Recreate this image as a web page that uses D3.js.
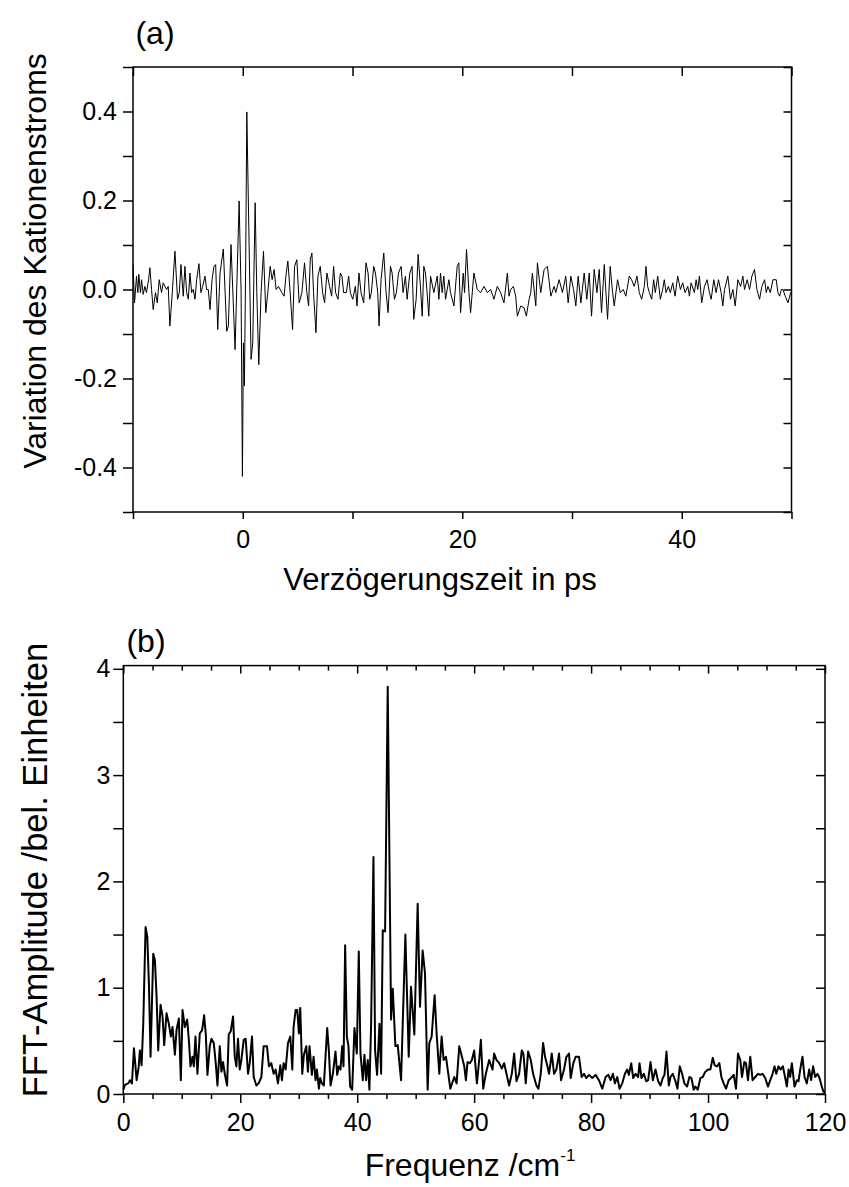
<!DOCTYPE html>
<html>
<head>
<meta charset="utf-8">
<script src="https://cdn.jsdelivr.net/npm/d3@7"></script>
<style>
  body { margin: 0; background: #fff; }
  svg text { font-family: "Liberation Sans", Arial, sans-serif; fill: #000; }
</style>
</head>
<body>
<svg id="chart" width="849" height="1187"></svg>
<script>
// (a) cation current variation vs. delay time: [delay in ps, variation]
const cationSignal = [
  [-10.0,0.056],[-9.86,-0.030],[-9.68,0.030],[-9.56,-0.007],[-9.47,0.034],[-9.32,-0.007],[-9.22,0.022],[-9.07,-0.011],
  [-8.92,0.007],[-8.77,-0.007],[-8.58,0.022],[-8.46,0.049],[-8.31,0.000],[-8.16,-0.045],[-7.95,-0.007],[-7.79,-0.030],
  [-7.61,0.022],[-7.40,-0.007],[-7.25,0.015],[-6.94,0.000],[-6.79,0.007],[-6.64,-0.082],[-6.42,-0.007],[-6.18,0.086],
  [-5.94,-0.022],[-5.78,-0.007],[-5.63,0.056],[-5.42,-0.015],[-5.27,0.052],[-5.11,-0.007],[-4.96,-0.022],[-4.81,0.037],
  [-4.66,-0.007],[-4.51,0.000],[-4.35,-0.022],[-4.20,0.022],[-3.99,0.058],[-3.81,-0.007],[-3.65,0.007],[-3.44,0.030],
  [-3.29,0.000],[-3.14,0.000],[-2.98,-0.045],[-2.80,0.022],[-2.62,0.052],[-2.47,0.056],[-2.28,-0.090],[-2.07,0.037],
  [-1.77,0.091],[-1.46,-0.094],[-1.31,-0.082],[-1.07,0.101],[-0.70,-0.135],[-0.33,0.199],[-0.15,-0.007],[-0.03,-0.420],
  [0.06,-0.120],[0.15,-0.217],[0.27,0.067],[0.37,0.399],[0.55,0.142],[0.76,-0.157],[0.91,-0.120],[1.13,0.195],
  [1.28,-0.007],[1.46,-0.169],[1.67,-0.007],[1.89,0.086],[2.10,-0.052],[2.28,-0.007],[2.50,0.052],[2.68,0.022],
  [2.86,0.045],[3.04,0.000],[3.26,0.007],[3.56,-0.007],[3.77,-0.015],[3.93,0.030],[4.11,0.064],[4.32,-0.007],
  [4.54,-0.090],[4.72,0.052],[4.93,0.067],[5.14,-0.030],[5.39,-0.007],[5.63,0.060],[5.84,-0.007],[6.00,-0.037],
  [6.15,0.067],[6.30,0.082],[6.45,-0.007],[6.67,-0.097],[6.85,0.030],[7.06,0.052],[7.28,-0.007],[7.46,-0.030],
  [7.67,0.037],[7.91,0.007],[8.10,-0.015],[8.28,0.052],[8.46,-0.007],[8.68,-0.022],[8.89,0.037],[9.04,0.030],
  [9.19,-0.007],[9.44,-0.007],[9.65,0.030],[9.80,-0.007],[10.02,-0.022],[10.26,0.007],[10.41,-0.037],[10.59,0.037],
  [10.78,-0.007],[11.02,-0.030],[11.23,0.060],[11.42,0.037],[11.57,-0.022],[11.72,-0.007],[11.93,0.052],[12.09,0.037],
  [12.30,-0.007],[12.42,-0.082],[12.60,0.022],[12.85,0.082],[13.06,-0.007],[13.24,-0.052],[13.46,0.052],[13.61,0.037],
  [13.82,-0.022],[14.00,-0.007],[14.19,0.037],[14.43,0.052],[14.61,-0.007],[14.82,0.030],[14.98,-0.022],[15.22,0.037],
  [15.43,0.052],[15.58,-0.067],[15.80,-0.022],[15.98,0.079],[16.19,0.007],[16.35,-0.060],[16.50,0.052],[16.65,0.037],
  [16.80,-0.007],[16.95,-0.060],[17.11,0.030],[17.41,-0.007],[17.72,0.030],[17.87,-0.022],[18.02,0.037],[18.17,-0.007],
  [18.32,0.030],[18.48,-0.022],[18.78,0.022],[18.93,-0.007],[19.24,-0.037],[19.54,0.052],[19.69,0.060],[19.85,-0.052],
  [20.09,0.037],[20.21,-0.007],[20.39,0.090],[20.61,-0.007],[20.76,-0.052],[21.06,0.037],[21.37,0.000],[21.67,-0.007],
  [21.98,0.007],[22.28,-0.007],[22.59,0.000],[22.89,-0.022],[23.19,0.007],[23.50,-0.007],[23.80,-0.030],[24.11,0.037],
  [24.26,-0.015],[24.41,0.000],[24.66,0.007],[24.87,-0.015],[25.02,-0.060],[25.33,-0.037],[25.63,-0.041],[25.84,-0.060],
  [26.09,-0.022],[26.24,-0.007],[26.39,0.037],[26.70,-0.037],[26.85,0.060],[27.15,-0.007],[27.46,0.045],[27.76,0.052],
  [28.07,-0.015],[28.37,0.007],[28.52,-0.007],[28.83,0.022],[29.13,-0.007],[29.43,0.030],[29.65,-0.030],[29.89,0.030],
  [30.14,0.000],[30.35,-0.037],[30.56,0.030],[30.81,-0.030],[31.11,0.037],[31.35,-0.022],[31.57,0.037],[31.78,-0.060],
  [32.02,0.045],[32.27,-0.007],[32.48,0.045],[32.69,-0.052],[32.94,0.056],[33.24,-0.067],[33.48,0.052],[33.70,-0.007],
  [33.85,-0.037],[34.15,0.022],[34.40,-0.007],[34.67,0.000],[34.91,-0.015],[35.22,0.030],[35.43,0.022],[35.67,0.007],
  [35.92,0.030],[36.13,-0.007],[36.35,-0.022],[36.59,0.007],[36.74,0.052],[36.89,0.007],[37.05,-0.007],[37.26,-0.022],
  [37.44,0.022],[37.59,-0.007],[37.81,0.030],[38.05,-0.022],[38.26,0.000],[38.41,0.022],[38.57,-0.007],[38.78,0.007],
  [38.96,-0.007],[39.18,0.015],[39.39,-0.015],[39.63,0.030],[39.88,0.000],[40.09,0.015],[40.30,-0.007],[40.55,0.007],
  [40.70,-0.015],[40.85,0.015],[41.15,-0.007],[41.31,0.022],[41.46,0.000],[41.61,0.030],[41.82,-0.030],[42.07,0.007],
  [42.31,0.022],[42.52,-0.007],[42.68,-0.022],[42.92,0.022],[43.13,-0.007],[43.35,0.022],[43.59,-0.007],[43.74,-0.037],
  [43.90,0.000],[44.20,0.030],[44.44,-0.022],[44.66,0.000],[44.87,-0.037],[45.11,0.022],[45.36,0.007],[45.57,0.030],
  [45.72,0.000],[45.96,0.022],[46.18,0.000],[46.39,0.030],[46.63,0.045],[46.85,0.000],[47.09,-0.022],[47.30,0.007],
  [47.55,0.022],[47.70,-0.007],[47.85,0.007],[48.07,-0.007],[48.31,0.022],[48.61,0.022],[48.76,-0.007],[48.92,-0.015],
  [49.07,0.000],[49.22,0.000],[49.43,-0.015],[49.68,-0.030],[49.92,-0.007],[50.0,-0.007]
];

// (b) FFT amplitude vs. frequency: [frequency in cm^-1, amplitude]
const fftSpectrum = [
  [0.00,0.04],[0.28,0.085],[0.85,0.10],[1.14,0.13],[1.48,0.10],[1.82,0.43],[2.28,0.13],[2.62,0.25],
  [2.84,0.41],[3.13,0.27],[3.41,0.66],[3.81,1.57],[4.10,1.48],[4.38,1.04],[4.66,0.35],[5.12,1.32],
  [5.40,1.26],[5.69,0.92],[5.97,0.41],[6.37,0.84],[6.71,0.73],[7.00,0.46],[7.39,0.76],[7.79,0.66],
  [8.13,0.54],[8.42,0.63],[8.82,0.37],[9.10,0.60],[9.50,0.71],[9.84,0.13],[10.13,0.79],[10.52,0.63],
  [10.92,0.70],[11.21,0.51],[11.49,0.26],[11.83,0.35],[12.06,0.26],[12.34,0.54],[12.68,0.19],[13.08,0.57],
  [13.48,0.60],[13.82,0.74],[14.11,0.56],[14.39,0.18],[14.79,0.45],[15.07,0.52],[15.47,0.48],[15.81,0.29],
  [16.10,0.08],[16.50,0.45],[16.78,0.21],[17.06,0.30],[17.35,0.19],[17.75,0.08],[18.03,0.56],[18.37,0.59],
  [18.77,0.73],[19.06,0.35],[19.34,0.26],[19.62,0.52],[19.91,0.23],[20.19,0.32],[20.59,0.51],[20.93,0.52],
  [21.33,0.19],[21.62,0.29],[22.01,0.54],[22.30,0.16],[22.75,0.08],[23.15,0.10],[23.61,0.16],[24.00,0.45],
  [24.57,0.45],[24.91,0.26],[25.31,0.29],[25.71,0.19],[26.05,0.23],[26.45,0.10],[26.85,0.27],[27.13,0.13],
  [27.42,0.29],[27.76,0.23],[28.16,0.48],[28.56,0.54],[28.90,0.23],[29.12,0.63],[29.47,0.79],[29.75,0.79],
  [30.03,0.57],[30.26,0.81],[30.60,0.19],[30.89,0.37],[31.29,0.45],[31.57,0.21],[31.85,0.45],[32.25,0.18],
  [32.54,0.35],[32.88,0.13],[33.11,0.23],[33.45,0.05],[33.67,0.15],[33.96,0.10],[34.30,0.08],[34.58,0.35],
  [34.87,0.62],[35.15,0.41],[35.44,0.08],[35.84,0.19],[36.29,0.40],[36.58,0.18],[36.86,0.26],[37.14,0.23],
  [37.43,0.45],[37.66,0.26],[37.94,1.40],[38.23,0.54],[38.51,0.45],[38.79,0.07],[39.14,0.04],[39.53,0.62],
  [39.93,0.38],[40.27,1.34],[40.56,0.38],[40.96,0.13],[41.24,0.37],[41.52,0.13],[41.81,0.32],[42.09,0.04],
  [42.38,0.66],[42.78,2.23],[43.06,0.41],[43.40,0.18],[43.80,0.66],[44.09,0.19],[44.37,1.54],[44.77,1.53],
  [45.22,3.83],[45.79,0.70],[46.08,0.99],[46.53,0.45],[46.93,0.46],[47.50,0.13],[48.24,1.50],[48.81,0.35],
  [49.20,1.01],[49.77,0.56],[50.34,1.79],[50.74,0.82],[51.19,1.35],[51.59,1.14],[52.05,0.04],[52.33,0.48],
  [52.73,0.54],[53.24,0.93],[53.58,0.57],[54.04,0.19],[54.44,0.54],[54.78,0.32],[55.18,0.35],[55.92,0.05],
  [56.60,0.16],[57.00,0.10],[57.45,0.45],[57.91,0.35],[58.31,0.26],[58.59,0.13],[58.87,0.30],[59.27,0.29],
  [59.61,0.32],[60.01,0.41],[60.47,0.10],[60.86,0.32],[61.15,0.51],[61.55,0.05],[62.00,0.19],[62.57,0.32],
  [63.14,0.23],[63.42,0.38],[63.82,0.32],[64.28,0.29],[64.73,0.24],[65.13,0.29],[65.53,0.19],[65.98,0.08],
  [66.44,0.19],[66.84,0.38],[67.24,0.12],[67.69,0.19],[68.15,0.41],[68.43,0.38],[68.83,0.10],[69.23,0.40],
  [69.68,0.32],[70.08,0.19],[70.65,0.08],[70.99,0.05],[71.39,0.19],[71.79,0.48],[72.13,0.35],[72.53,0.26],
  [72.81,0.19],[73.27,0.38],[73.67,0.19],[74.06,0.23],[74.52,0.38],[74.86,0.13],[75.37,0.23],[75.77,0.35],
  [76.22,0.38],[76.51,0.15],[76.96,0.29],[77.36,0.35],[77.93,0.35],[78.38,0.16],[78.78,0.19],[79.18,0.15],
  [79.64,0.18],[80.20,0.15],[80.77,0.18],[81.34,0.13],[81.91,0.05],[82.48,0.16],[82.94,0.18],[83.33,0.13],
  [83.73,0.19],[84.07,0.10],[84.47,0.16],[84.87,0.05],[85.32,0.10],[85.78,0.19],[86.18,0.23],[86.46,0.18],
  [86.86,0.29],[87.20,0.15],[87.60,0.19],[88.05,0.16],[88.28,0.29],[88.62,0.15],[89.02,0.19],[89.42,0.12],
  [89.76,0.13],[90.16,0.30],[90.56,0.13],[91.01,0.23],[91.47,0.12],[91.87,0.08],[92.26,0.15],[92.55,0.18],
  [92.89,0.40],[93.29,0.08],[93.57,0.16],[93.97,0.19],[94.43,0.12],[94.77,0.05],[95.16,0.26],[95.56,0.19],
  [95.96,0.10],[96.42,0.07],[96.81,0.16],[97.16,0.15],[97.55,0.04],[97.84,0.07],[98.24,0.04],[98.69,0.15],
  [99.09,0.16],[99.54,0.21],[100.00,0.23],[100.40,0.23],[100.80,0.34],[101.14,0.27],[101.54,0.26],[101.93,0.29],
  [102.28,0.16],[102.67,0.10],[103.07,0.05],[103.53,0.13],[103.92,0.15],[104.38,0.18],[104.78,0.05],[105.12,0.38],
  [105.52,0.32],[105.80,0.16],[106.20,0.30],[106.48,0.29],[106.83,0.13],[107.22,0.35],[107.62,0.13],[108.08,0.16],
  [108.53,0.19],[108.93,0.18],[109.33,0.19],[109.78,0.15],[110.24,0.07],[110.64,0.13],[111.04,0.19],[111.38,0.26],
  [111.66,0.19],[112.06,0.26],[112.40,0.23],[112.80,0.26],[113.20,0.15],[113.48,0.07],[113.77,0.23],[114.05,0.16],
  [114.33,0.29],[114.79,0.07],[115.19,0.13],[115.47,0.12],[115.76,0.23],[116.15,0.35],[116.50,0.16],[116.89,0.10],
  [117.29,0.23],[117.63,0.13],[117.97,0.26],[118.32,0.16],[118.71,0.19],[119.06,0.15],[119.45,0.07],[119.74,0.02],
  [120.0,0.02]
];

const delayTicks = [-10, 0, 10, 20, 30, 40, 50];
const delayLabels = [0, 20, 40];
const variationTicks = [-0.5, -0.4, -0.3, -0.2, -0.1, 0, 0.1, 0.2, 0.3, 0.4, 0.5];
const variationLabels = [-0.4, -0.2, 0, 0.2, 0.4];
const freqMajor = [0, 20, 40, 60, 80, 100, 120];
const freqMinor = [5, 10, 15, 25, 30, 35, 45, 50, 55, 65, 70, 75, 85, 90, 95, 105, 110, 115];
const ampTicks = [0, 0.5, 1, 1.5, 2, 2.5, 3, 3.5, 4];
const ampLabels = [0, 1, 2, 3, 4];

const svg = d3.select('#chart');
const tickFont = 25, titleFont = 32;
// plain hyphen for negatives, like the original
const fmt1 = d => d3.format('.1f')(d).replace('\u2212', '-');

function styleAxis(g) {
  g.select('.domain').remove();
  g.selectAll('.tick line').attr('stroke', '#000').attr('stroke-width', 1.5);
  g.selectAll('.tick text').attr('font-size', tickFont).attr('fill', '#000')
    .attr('font-family', '"Liberation Sans", Arial, sans-serif');
}

// ---------- panel (a) ----------
const xA = d3.scaleLinear().domain([-10, 50]).range([133, 791.5]);
const yA = d3.scaleLinear().domain([-0.5, 0.5]).range([512, 67]);

svg.append('g')
  .attr('transform', `translate(0, ${yA(-0.5)})`)
  .call(d3.axisBottom(xA).tickValues(delayTicks).tickSize(7).tickPadding(11)
    .tickFormat(d => delayLabels.includes(d) ? d : ''))
  .call(styleAxis);
svg.append('g')
  .attr('transform', `translate(0, ${yA(0.5)})`)
  .call(d3.axisTop(xA).tickValues(delayTicks).tickSize(-9).tickFormat(''))
  .call(styleAxis);
svg.append('g')
  .attr('transform', `translate(${xA(-10)}, 0)`)
  .call(d3.axisLeft(yA).tickValues(variationTicks).tickSize(10).tickPadding(6)
    .tickFormat(d => variationLabels.some(v => Math.abs(v - d) < 1e-9) ? fmt1(d) : ''))
  .call(styleAxis);
svg.append('g')
  .attr('transform', `translate(${xA(50)}, 0)`)
  .call(d3.axisRight(yA).tickValues(variationTicks).tickSize(-8).tickFormat(''))
  .call(styleAxis);

svg.append('rect')
  .attr('x', xA(-10)).attr('y', yA(0.5))
  .attr('width', xA(50) - xA(-10)).attr('height', yA(-0.5) - yA(0.5))
  .attr('fill', 'none').attr('stroke', '#000').attr('stroke-width', 1.5);

svg.append('path')
  .datum(cationSignal)
  .attr('fill', 'none').attr('stroke', '#000').attr('stroke-width', 1)
  .attr('stroke-linejoin', 'round')
  .attr('d', d3.line().x(d => xA(d[0])).y(d => yA(d[1])));

svg.append('text').attr('x', 155).attr('y', 44).attr('text-anchor', 'middle')
  .attr('font-size', 32).text('(a)');
svg.append('text').attr('x', 440).attr('y', 590).attr('text-anchor', 'middle')
  .attr('font-size', 31).text('Verzögerungszeit in ps');
svg.append('text').attr('transform', 'translate(46, 261) rotate(-90)').attr('text-anchor', 'middle')
  .attr('font-size', titleFont).text('Variation des Kationenstroms');

// ---------- panel (b) ----------
const xB = d3.scaleLinear().domain([0, 120]).range([123.3, 825]);
const yB = d3.scaleLinear().domain([0, 4.03]).range([1094, 665.6]);

svg.append('g')
  .attr('transform', `translate(0, ${yB(0)})`)
  .call(d3.axisBottom(xB).tickValues(freqMajor).tickSize(9).tickPadding(10))
  .call(styleAxis);
svg.append('g')
  .attr('transform', `translate(0, ${yB(0)})`)
  .call(d3.axisBottom(xB).tickValues(freqMinor).tickSize(5).tickFormat(''))
  .call(styleAxis);
svg.append('g')
  .attr('transform', `translate(0, ${yB(4.03)})`)
  .call(d3.axisTop(xB).tickValues(freqMajor).tickSize(-8).tickFormat(''))
  .call(styleAxis);
svg.append('g')
  .attr('transform', `translate(0, ${yB(4.03)})`)
  .call(d3.axisTop(xB).tickValues(freqMinor).tickSize(-5).tickFormat(''))
  .call(styleAxis);
svg.append('g')
  .attr('transform', `translate(${xB(0)}, 0)`)
  .call(d3.axisLeft(yB).tickValues(ampTicks).tickSize(10).tickPadding(3)
    .tickFormat(d => ampLabels.includes(d) ? d : ''))
  .call(styleAxis);
svg.append('g')
  .attr('transform', `translate(${xB(120)}, 0)`)
  .call(d3.axisRight(yB).tickValues(ampTicks).tickSize(-9).tickFormat(''))
  .call(styleAxis);

svg.append('rect')
  .attr('x', xB(0)).attr('y', yB(4.03))
  .attr('width', xB(120) - xB(0)).attr('height', yB(0) - yB(4.03))
  .attr('fill', 'none').attr('stroke', '#000').attr('stroke-width', 1.5);

svg.append('path')
  .datum(fftSpectrum)
  .attr('fill', 'none').attr('stroke', '#000').attr('stroke-width', 2)
  .attr('stroke-linejoin', 'round')
  .attr('d', d3.line().x(d => xB(d[0])).y(d => yB(d[1])));

svg.append('text').attr('x', 146).attr('y', 652).attr('text-anchor', 'middle')
  .attr('font-size', 32).text('(b)');
const freqTitle = svg.append('text').attr('x', 470).attr('y', 1176).attr('text-anchor', 'middle')
  .attr('font-size', titleFont);
freqTitle.append('tspan').text('Frequenz /cm');
freqTitle.append('tspan').attr('dy', -15).attr('font-size', 17).text('-1');
svg.append('text').attr('transform', 'translate(47, 870) rotate(-90)').attr('text-anchor', 'middle')
  .attr('font-size', 34.5).text('FFT-Amplitude /bel. Einheiten');
</script>
</body>
</html>
